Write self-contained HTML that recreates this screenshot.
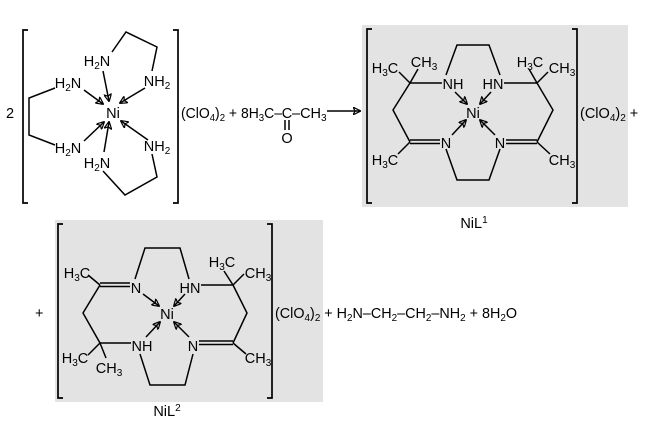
<!DOCTYPE html>
<html><head><style>
html,body{margin:0;padding:0;background:#fff;}
svg{display:block;font-family:"Liberation Sans",sans-serif;font-size:14.5px;}
line,polyline,path{stroke:#000;stroke-width:1.5;fill:none;}
.br{stroke-width:1.7;}
</style></head><body>
<svg width="649" height="437" viewBox="0 0 649 437">
<defs>
<marker id="a" viewBox="0 0 10 10" refX="9" refY="5" markerWidth="8" markerHeight="8" orient="auto" markerUnits="userSpaceOnUse">
<path d="M0,0 L10,5 L0,10 L3,5 z" fill="#000" stroke="none"/></marker>
</defs>
<rect x="362" y="25" width="266" height="182" fill="#e3e3e3"/>
<rect x="55" y="220" width="268" height="182" fill="#e3e3e3"/>

<!-- Complex 1 -->
<text x="6" y="118">2</text>
<polyline class="br" points="28,30 23,30 23,203 28,203"/>
<polyline class="br" points="173,30 178,30 178,203 173,203"/>
<text x="113" y="118" text-anchor="middle">Ni</text>
<text x="97" y="66" text-anchor="middle">H<tspan font-size="10" dy="3">2</tspan><tspan dy="-3">N</tspan></text>
<text x="157" y="86" text-anchor="middle">NH<tspan font-size="10" dy="3">2</tspan></text>
<text x="68" y="88" text-anchor="middle">H<tspan font-size="10" dy="3">2</tspan><tspan dy="-3">N</tspan></text>
<text x="68" y="153" text-anchor="middle">H<tspan font-size="10" dy="3">2</tspan><tspan dy="-3">N</tspan></text>
<text x="157" y="151" text-anchor="middle">NH<tspan font-size="10" dy="3">2</tspan></text>
<text x="97" y="168" text-anchor="middle">H<tspan font-size="10" dy="3">2</tspan><tspan dy="-3">N</tspan></text>
<polyline points="112,52 126,32 157,47 152,71"/>
<polyline points="55,88 29,98 29,135 55,145"/>
<polyline points="103,171 125,195 157,177 152,154"/>
<line x1="103" y1="71" x2="109" y2="101" marker-end="url(#a)"/>
<line x1="145" y1="88" x2="120" y2="103" marker-end="url(#a)"/>
<line x1="84" y1="90" x2="103" y2="104" marker-end="url(#a)"/>
<line x1="84" y1="141" x2="104" y2="122" marker-end="url(#a)"/>
<line x1="104" y1="152" x2="109" y2="122" marker-end="url(#a)"/>
<line x1="148" y1="140" x2="121" y2="121" marker-end="url(#a)"/>
<text x="181" y="118" textLength="101" lengthAdjust="spacingAndGlyphs">(ClO<tspan font-size="10" dy="3">4</tspan><tspan dy="-3">)</tspan><tspan font-size="10" dy="3">2</tspan><tspan dy="-3"> + 8H</tspan><tspan font-size="10" dy="3">3</tspan><tspan dy="-3">C–</tspan></text>
<text x="287" y="118" text-anchor="middle">C</text>
<text x="292" y="118">–CH<tspan font-size="10" dy="3">3</tspan></text>
<line x1="285" y1="120" x2="285" y2="130"/><line x1="289" y1="120" x2="289" y2="130"/>
<text x="287" y="143" text-anchor="middle">O</text>
<line x1="327" y1="111" x2="360" y2="111" marker-end="url(#a)"/>

<!-- NiL1 -->
<polyline class="br" points="372,29 367,29 367,203 372,203"/>
<polyline class="br" points="572,29 577,29 577,203 572,203"/>
<text x="473" y="118" text-anchor="middle">Ni</text>
<text x="453" y="89" text-anchor="middle">NH</text>
<text x="493" y="89" text-anchor="middle">HN</text>
<text x="446" y="148" text-anchor="middle">N</text>
<text x="500" y="148" text-anchor="middle">N</text>
<text x="385" y="73" text-anchor="middle">H<tspan font-size="10" dy="3">3</tspan><tspan dy="-3">C</tspan></text>
<text x="424" y="67" text-anchor="middle">CH<tspan font-size="10" dy="3">3</tspan></text>
<text x="530" y="67" text-anchor="middle">H<tspan font-size="10" dy="3">3</tspan><tspan dy="-3">C</tspan></text>
<text x="562" y="73" text-anchor="middle">CH<tspan font-size="10" dy="3">3</tspan></text>
<text x="385" y="165" text-anchor="middle">H<tspan font-size="10" dy="3">3</tspan><tspan dy="-3">C</tspan></text>
<text x="562" y="165" text-anchor="middle">CH<tspan font-size="10" dy="3">3</tspan></text>
<polyline points="446,75 457,45 489,45 500,75"/>
<polyline points="446,149 457,180 489,180 500,149"/>
<line x1="410" y1="83" x2="442" y2="83"/><line x1="504" y1="83" x2="537" y2="83"/>
<line x1="410" y1="83" x2="399" y2="72"/><line x1="410" y1="83" x2="418" y2="69"/>
<line x1="537" y1="83" x2="529" y2="69"/><line x1="537" y1="83" x2="548" y2="72"/>
<polyline points="410,83 393,110 410,142"/><polyline points="537,83 553,110 537,142"/>
<line x1="410" y1="140" x2="440" y2="140"/><line x1="410" y1="143.5" x2="440" y2="143.5"/>
<line x1="506" y1="140" x2="537" y2="140"/><line x1="506" y1="143.5" x2="537" y2="143.5"/>
<line x1="410" y1="142" x2="398" y2="154"/><line x1="537" y1="142" x2="550" y2="154"/>
<line x1="455" y1="92" x2="467" y2="104" marker-end="url(#a)"/>
<line x1="491" y1="92" x2="480" y2="104" marker-end="url(#a)"/>
<line x1="452" y1="135" x2="466" y2="120" marker-end="url(#a)"/>
<line x1="495" y1="135" x2="480" y2="120" marker-end="url(#a)"/>
<text x="580" y="118">(ClO<tspan font-size="10" dy="3">4</tspan><tspan dy="-3">)</tspan><tspan font-size="10" dy="3">2</tspan><tspan dy="-3"> +</tspan></text>
<text x="474" y="228" text-anchor="middle">NiL<tspan font-size="10" dy="-5">1</tspan></text>

<!-- NiL2 -->
<text x="35" y="318">+</text>
<polyline class="br" points="63,224 58,224 58,398 63,398"/>
<polyline class="br" points="267,224 272,224 272,398 267,398"/>
<text x="167" y="319" text-anchor="middle">Ni</text>
<text x="136" y="293" text-anchor="middle">N</text>
<text x="190" y="293" text-anchor="middle">HN</text>
<text x="142" y="351" text-anchor="middle">NH</text>
<text x="193" y="351" text-anchor="middle">N</text>
<text x="77" y="278" text-anchor="middle">H<tspan font-size="10" dy="3">3</tspan><tspan dy="-3">C</tspan></text>
<text x="222" y="267" text-anchor="middle">H<tspan font-size="10" dy="3">3</tspan><tspan dy="-3">C</tspan></text>
<text x="258" y="278" text-anchor="middle">CH<tspan font-size="10" dy="3">3</tspan></text>
<text x="75" y="363" text-anchor="middle">H<tspan font-size="10" dy="3">3</tspan><tspan dy="-3">C</tspan></text>
<text x="109" y="373" text-anchor="middle">CH<tspan font-size="10" dy="3">3</tspan></text>
<text x="258" y="363" text-anchor="middle">CH<tspan font-size="10" dy="3">3</tspan></text>
<polyline points="135,279 145,248 180,248 189,279"/>
<polyline points="140,354 150,385 185,385 193,354"/>
<line x1="100" y1="283" x2="130" y2="283"/><line x1="100" y1="286.5" x2="130" y2="286.5"/>
<line x1="100" y1="285" x2="88" y2="275"/>
<line x1="201" y1="285" x2="233" y2="285"/>
<line x1="233" y1="285" x2="224" y2="271"/><line x1="233" y1="285" x2="244" y2="274"/>
<polyline points="100,285 83,313 100,343"/><polyline points="233,285 247,313 233,343"/>
<line x1="100" y1="343" x2="131" y2="343"/>
<line x1="100" y1="343" x2="88" y2="355"/><line x1="100" y1="343" x2="106" y2="358"/>
<line x1="199" y1="341" x2="233" y2="341"/><line x1="199" y1="344.5" x2="233" y2="344.5"/>
<line x1="233" y1="343" x2="246" y2="354"/>
<line x1="143" y1="294" x2="159" y2="306" marker-end="url(#a)"/>
<line x1="185" y1="294" x2="174" y2="306" marker-end="url(#a)"/>
<line x1="146" y1="337" x2="160" y2="322" marker-end="url(#a)"/>
<line x1="189" y1="337" x2="174" y2="322" marker-end="url(#a)"/>
<text x="275" y="318" textLength="242" lengthAdjust="spacingAndGlyphs">(ClO<tspan font-size="10" dy="3">4</tspan><tspan dy="-3">)</tspan><tspan font-size="10" dy="3">2</tspan><tspan dy="-3"> + H</tspan><tspan font-size="10" dy="3">2</tspan><tspan dy="-3">N–CH</tspan><tspan font-size="10" dy="3">2</tspan><tspan dy="-3">–CH</tspan><tspan font-size="10" dy="3">2</tspan><tspan dy="-3">–NH</tspan><tspan font-size="10" dy="3">2</tspan><tspan dy="-3"> + 8H</tspan><tspan font-size="10" dy="3">2</tspan><tspan dy="-3">O</tspan></text>
<text x="167" y="416" text-anchor="middle">NiL<tspan font-size="10" dy="-5">2</tspan></text>
</svg>
</body></html>
